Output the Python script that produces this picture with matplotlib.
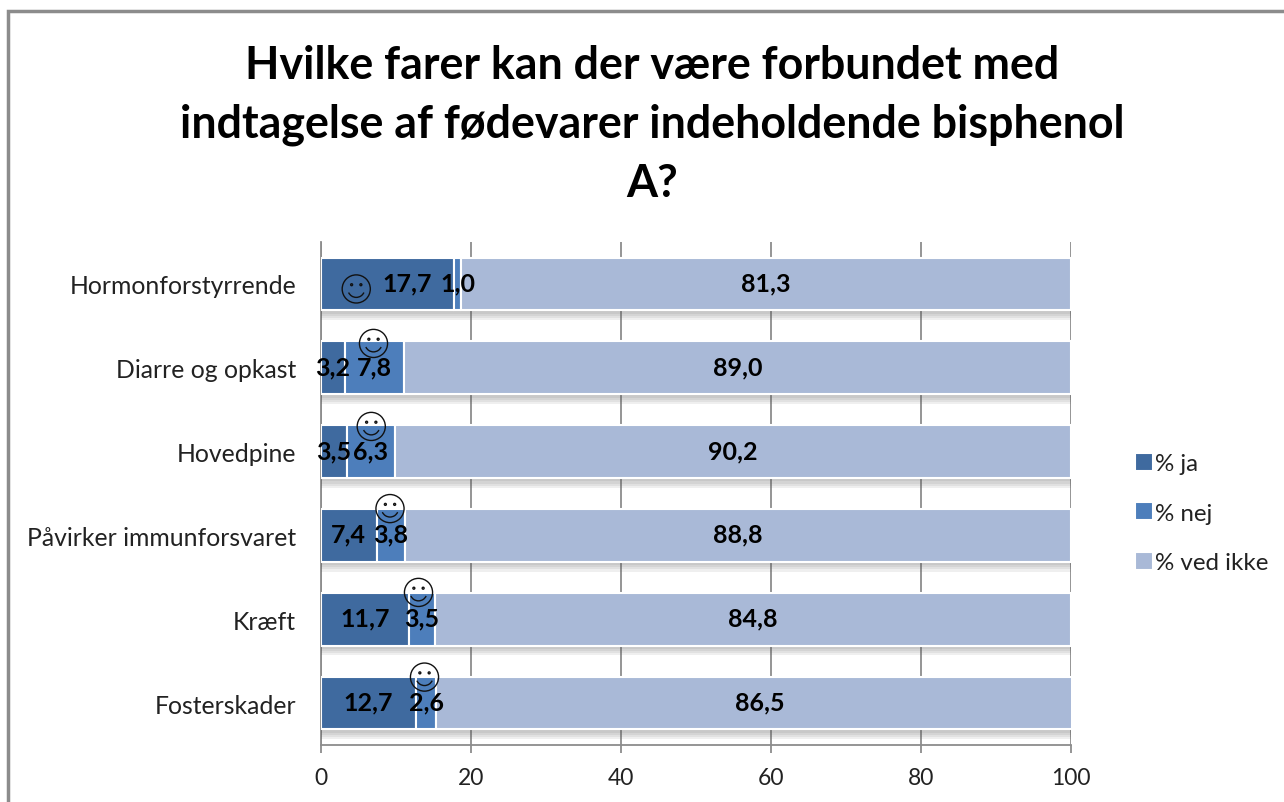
# Stacked bars: known hazards of bisphenol A in food, answers in percent

import matplotlib
matplotlib.use('Agg')
import matplotlib.pyplot as plt
import matplotlib.patheffects as pe
from matplotlib.patches import Rectangle
from matplotlib.path import Path
from matplotlib.transforms import Affine2D

categories = ['Hormonforstyrrende', 'Diarre og opkast', 'Hovedpine',
              'Påvirker immunforsvaret', 'Kræft', 'Fosterskader']
ja = [17.7, 3.2, 3.5, 7.4, 11.7, 12.7]
nej = [1.0, 7.8, 6.3, 3.8, 3.5, 2.6]
ved_ikke = [81.3, 89.0, 90.2, 88.8, 84.8, 86.5]
series_names = ['% ja', '% nej', '% ved ikke']
x_ticks = [0, 20, 40, 60, 80, 100]
title = 'Hvilke farer kan der være forbundet med\nindtagelse af fødevarer indeholdende bisphenol\nA?'
# x position of the smiley on each bar, marks the correct answer
smiley_x = [4.7, 7.0, 6.7, 9.2, 13.0, 13.8]
smiley_dy = [-0.06, 0.29, 0.30, 0.32, 0.32, 0.31]

colors = ['#3f6a9f', '#4d7ebb', '#a9b9d7']

plt.rcParams['font.family'] = ['Lato', 'DejaVu Sans']

fig = plt.figure(figsize=(12.84, 8.03), dpi=100)
fig.patches.append(Rectangle((8 / 1284, -0.01), 1.1, 1 - 12 / 803 + 0.01,
                             transform=fig.transFigure, fill=False,
                             edgecolor='#8c8c8c', linewidth=2.5))

ax = fig.add_axes([321 / 1284, 1 - 746 / 803, 750 / 1284, 503 / 803])

# soft shadow under the bars, built up from a few faint offset copies
shadow = [pe.SimplePatchShadow(offset=(0, -d), shadow_rgbFace='#555555', alpha=0.09)
          for d in (7, 5.5, 4, 2.5)] + [pe.Normal()]

y = range(len(categories))
left = [0] * len(categories)
for values, color, name in zip([ja, nej, ved_ikke], colors, series_names):
    bars = ax.barh(y, values, left=left, height=0.63, color=color, edgecolor='white',
                   linewidth=1.5, label=name, zorder=3)
    for bar in bars:
        bar.set_path_effects(shadow)
    for i, v in enumerate(values):
        xpos = left[i] + v / 2
        if v == 17.7:
            xpos += 2.6   # this label sits off centre in the original
        ax.text(xpos, i - 0.012, f'{v:.1f}'.replace('.', ','), ha='center', va='center',
                fontsize=18, fontweight='bold', color='black', zorder=5)
    left = [a + b for a, b in zip(left, values)]

# smiley as one marker: face, eyes and mouth
circle = Path.unit_circle()
smile = Path.make_compound_path(
    circle,
    circle.transformed(Affine2D().scale(0.07).translate(-0.33, 0.3)),
    circle.transformed(Affine2D().scale(0.07).translate(0.33, 0.3)),
    Path.arc(205, 335).transformed(Affine2D().scale(0.6)),
)
ax.scatter(smiley_x, [i - d for i, d in zip(y, smiley_dy)], s=410, marker=smile,
           facecolors='none', edgecolors='#111111', linewidths=1.0, zorder=6)

ax.set_xlim(0, 100)
ax.set_ylim(len(categories) - 0.5, -0.5)
ax.set_xticks(x_ticks)
ax.set_yticks(list(y))
ax.set_yticklabels(categories)
ax.tick_params(axis='x', labelsize=16.5, color='#8c8c8c', length=6, width=1.3, pad=10, labelcolor='#222222')
ax.tick_params(axis='y', length=0, labelsize=17.8, pad=18, labelcolor='#222222')
ax.grid(axis='x', color='#8c8c8c', linewidth=1.3, zorder=0)
ax.set_axisbelow(True)
ax.spines['top'].set_visible(False)
ax.spines['right'].set_visible(False)
ax.spines['left'].set_color('#8c8c8c')
ax.spines['left'].set_linewidth(1.3)
ax.spines['bottom'].set_color('#8c8c8c')
ax.spines['bottom'].set_linewidth(1.3)

fig.text(652 / 1284, 1 - 125 / 803, title, ha='center', va='center', fontsize=32.2,
         fontweight='bold', color='black', linespacing=1.48)

leg = fig.legend(loc='center left', bbox_to_anchor=(1113 / 1284, 1 - 514 / 803), frameon=False,
                 fontsize=17.4, handlelength=0.75, handleheight=0.75, handletextpad=0.07,
                 labelspacing=1.17, labelcolor='#222222')
for h in leg.legend_handles:
    h.set_path_effects([pe.SimplePatchShadow(offset=(1, -1), shadow_rgbFace='#777777', alpha=0.25), pe.Normal()])

plt.savefig('out.png', dpi=100)
